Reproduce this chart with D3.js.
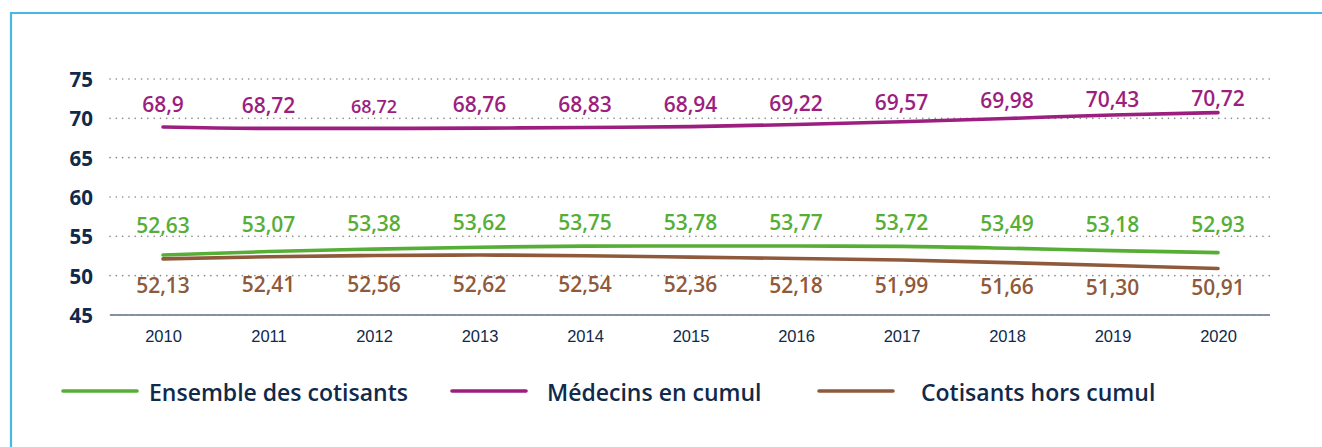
<!DOCTYPE html>
<html><head><meta charset="utf-8">
<script src="https://cdn.jsdelivr.net/npm/d3@7"></script>
<style>
html,body{margin:0;padding:0;background:#fff;}
svg{display:block;}
</style></head>
<body>
<svg id="chart" width="1322" height="447"></svg>
<script>
const years = ["2010","2011","2012","2013","2014","2015","2016","2017","2018","2019","2020"];
const ensemble = [52.63,53.07,53.38,53.62,53.75,53.78,53.77,53.72,53.49,53.18,52.93];
const medecins = [68.9,68.72,68.72,68.76,68.83,68.94,69.22,69.57,69.98,70.43,70.72];
const horsCumul = [52.13,52.41,52.56,52.62,52.54,52.36,52.18,51.99,51.66,51.30,50.91];
const medecinsLabels = ["68,9","68,72","68,72","68,76","68,83","68,94","69,22","69,57","69,98","70,43","70,72"];
const yTicks = [45,50,55,60,65,70,75];
const legendNames = ["Ensemble des cotisants","Médecins en cumul","Cotisants hors cumul"];

const navy = "#0f2a4a";
const colors = {ens:"#56ae36", med:"#9c1f80", hors:"#8f5a3b"};
const fmt = v => v.toFixed(2).replace(".", ",");
const font = "'Open Sans', Lato, sans-serif";

const svg = d3.select("#chart");

// frame
svg.append("path").attr("d","M11,447 V13 H1322").attr("fill","none")
  .attr("stroke","#45b8e6").attr("stroke-width",2.2);

const x = d3.scalePoint().domain(years).range([163,1218]);
const y = d3.scaleLinear().domain([45,75]).range([315,79]);
const x0 = 110, x1 = 1270;

// gridlines
svg.append("g").selectAll("line").data(yTicks.filter(t=>t>45)).join("line")
  .attr("x1",x0).attr("x2",x1).attr("y1",d=>y(d)).attr("y2",d=>y(d))
  .attr("stroke","#8a8a8a").attr("stroke-width",1.6)
  .attr("stroke-dasharray","0.1 6.2").attr("stroke-linecap","round");

// baseline
svg.append("line").attr("x1",x0).attr("x2",x1).attr("y1",y(45)).attr("y2",y(45))
  .attr("stroke","#5b6b82").attr("stroke-width",1.3);
svg.append("line").attr("x1",x0).attr("x2",x1).attr("y1",y(45)).attr("y2",y(45))
  .attr("stroke","#9aa3b0").attr("stroke-width",1.2)
  .attr("stroke-dasharray","0.1 6.2").attr("stroke-linecap","round");

// y axis labels
const yAxis = d3.axisLeft(y).tickValues(yTicks).tickSize(0).tickPadding(0);
const gy = svg.append("g").attr("transform","translate(93,0)").call(yAxis);
gy.select(".domain").remove();
gy.selectAll("text").attr("fill",navy).attr("font-family",font)
  .attr("font-weight","700").attr("font-size","20.5px").attr("dy","0.36em");

// x axis labels
const xAxis = d3.axisBottom(x).tickSize(0).tickPadding(0);
const gx = svg.append("g").attr("transform","translate(0,342)").call(xAxis);
gx.select(".domain").remove();
gx.selectAll("text").attr("fill",navy).attr("font-family","'Liberation Sans', Arial, sans-serif")
  .attr("font-size","16.5px").attr("y",0).attr("dy",null);

// lines
const line = d3.line().x((d,i)=>x(years[i])).y(d=>y(d)).curve(d3.curveMonotoneX);
[[ensemble,colors.ens],[horsCumul,colors.hors],[medecins,colors.med]].forEach(([data,c])=>{
  svg.append("path").datum(data).attr("d",line).attr("fill","none")
    .attr("stroke",c).attr("stroke-width",3.6).attr("stroke-linecap","round");
});

// medecins labels
svg.append("g").selectAll("text").data(medecins).join("text")
  .attr("x",(d,i)=>x(years[i])).attr("y",d=>y(d)-15+(d-68.9)*4.57)
  .attr("text-anchor","middle").attr("fill",colors.med)
  .attr("font-family",font).attr("font-weight","600")
  .attr("font-size",(d,i)=>i===2?"18px":"21px")
  .text((d,i)=>medecinsLabels[i]);
// ensemble labels
svg.append("g").selectAll("text").data(ensemble).join("text")
  .attr("x",(d,i)=>x(years[i])).attr("y",d=>y(d)-22+(d-52.63)*5.3)
  .attr("text-anchor","middle").attr("fill",colors.ens)
  .attr("font-family",font).attr("font-weight","600").attr("font-size","21px")
  .text(fmt);
// hors cumul labels
svg.append("g").selectAll("text").data(horsCumul).join("text")
  .attr("x",(d,i)=>x(years[i])).attr("y",d=>y(d)+34+(d-52.13)*5.9)
  .attr("text-anchor","middle").attr("fill",colors.hors)
  .attr("font-family",font).attr("font-weight","600").attr("font-size","21px")
  .text(fmt);

// legend
const legend = [
  {name:legendNames[0], c:colors.ens, lx:63, tx:149},
  {name:legendNames[1], c:colors.med, lx:452, tx:547},
  {name:legendNames[2], c:colors.hors, lx:819, tx:921}
];
const lg = svg.append("g");
legend.forEach(l=>{
  lg.append("line").attr("x1",l.lx).attr("x2",l.lx+74).attr("y1",391).attr("y2",391)
    .attr("stroke",l.c).attr("stroke-width",3.6).attr("stroke-linecap","round");
  lg.append("text").attr("x",l.tx).attr("y",401).attr("fill",navy)
    .attr("font-family",font).attr("font-weight","600").attr("font-size","23px")
    .text(l.name);
});
</script>
</body></html>
